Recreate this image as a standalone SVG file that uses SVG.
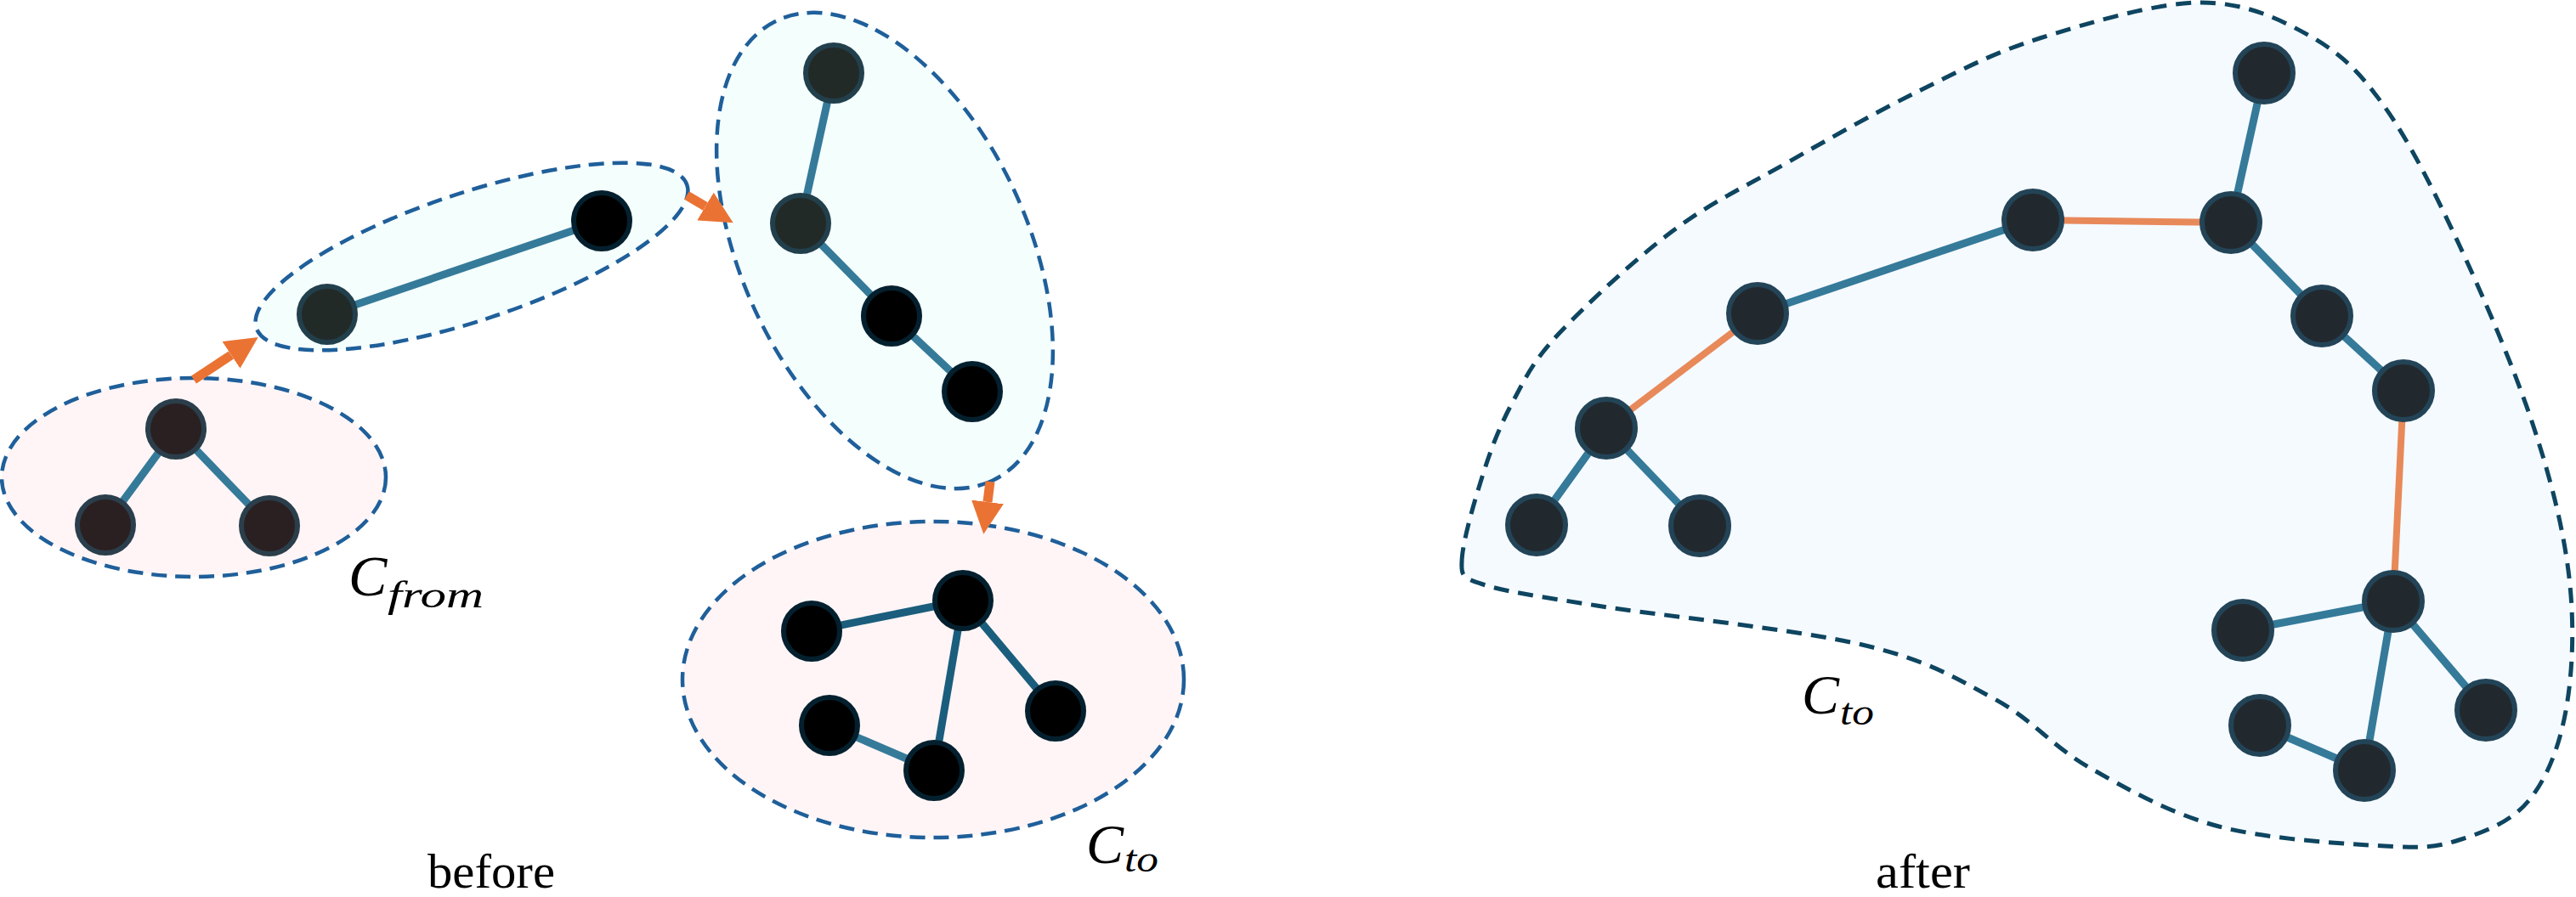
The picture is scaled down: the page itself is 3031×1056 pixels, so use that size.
<svg xmlns="http://www.w3.org/2000/svg" width="3031" height="1056" viewBox="0 0 3031 1056">
<style>
.cl{stroke:#1f5f9a;stroke-width:4.5;stroke-dasharray:18 10}
.pink{fill:#fff5f6}
.cyan{fill:#f4fefd}
.blob{fill:#f5faff;stroke:#0e4560;stroke-width:5;stroke-dasharray:18 11}
.e{stroke:#357a99;stroke-width:9;fill:none}
.ed{stroke:#1b5d7d;stroke-width:9;fill:none}
.eo{stroke:#e8895a;stroke-width:8;fill:none}
.arr{stroke:#ea7334;stroke-width:11;fill:none}
.nb{fill:#2a2021;stroke:#2b3e4b;stroke-width:6}
.ns{fill:#222a28;stroke:#223f4c;stroke-width:6}
.nk{fill:#000;stroke:#04202e;stroke-width:6}
.na{fill:#22292e;stroke:#234457;stroke-width:6}
.math{font-family:"Liberation Serif","DejaVu Serif",serif;font-style:italic;fill:#000}
.cap{font-family:"Liberation Serif","DejaVu Serif",serif;font-size:57px;fill:#000}
</style>
<defs>
<marker id="ah" markerUnits="userSpaceOnUse" markerWidth="38" markerHeight="38" viewBox="0 0 38 38" refX="0" refY="19" orient="auto">
<path d="M0,0 L38,19 L0,38 Z" fill="#ea7334"/>
</marker>
</defs>

<g id="cluster-from">
<ellipse class="cl pink" cx="228" cy="562" rx="226" ry="117"/>
</g>
<g id="cluster-mid1">
<ellipse class="cl cyan" cx="555" cy="302" rx="267" ry="75" transform="rotate(-18.4 555 302)"/>
</g>
<g id="cluster-mid2">
<ellipse class="cl cyan" cx="1041" cy="295" rx="299" ry="168" transform="rotate(65 1041 295)"/>
</g>
<g id="cluster-to">
<ellipse class="cl pink" cx="1098" cy="800" rx="295" ry="186"/>
</g>
<g id="cluster-after">
<path class="blob" d="M1720,662 C1720,640.3 1735,589.5 1745,558 C1755,526.5 1765.2,500.5 1780,473 C1794.8,445.5 1802.7,426.5 1834,393 C1865.3,359.5 1923.3,305.5 1968,272 C2012.7,238.5 2053.7,219.5 2102,192 C2150.3,164.5 2208.3,131.5 2258,107 C2307.7,82.5 2344.8,62.3 2400,45 C2455.2,27.7 2535.8,3.3 2589,3 C2642.2,2.7 2682.8,22.5 2719,43 C2755.2,63.5 2777,85.3 2806,126 C2835,166.7 2864,224.8 2893,287 C2922,349.2 2958.3,433.5 2980,499 C3001.7,564.5 3016.5,623.7 3023,680 C3029.5,736.3 3027,793.2 3019,837 C3011,880.8 2996,917.7 2975,943 C2954,968.3 2921.2,980.2 2893,989 C2864.8,997.8 2853,998.7 2806,996 C2759,993.3 2668.8,988.3 2611,973 C2553.2,957.7 2503,929 2459,904 C2415,879 2391.7,847.2 2347,823 C2302.3,798.8 2269,777.3 2191,759 C2113,740.7 1953.3,724.8 1879,713 C1804.7,701.2 1771.5,696.5 1745,688 C1722,681 1719,678 1720,662 Z"/>
</g>

<g id="connectors">
<line class="e" x1="207" y1="505" x2="124" y2="618"/>
<line class="e" x1="207" y1="505" x2="317" y2="619"/>
<line class="e" x1="385" y1="370" x2="708" y2="260"/>
<line class="e" x1="981" y1="86" x2="942" y2="263"/>
<line class="e" x1="942" y1="263" x2="1049" y2="372"/>
<line class="e" x1="1049" y1="372" x2="1144" y2="461"/>
<line class="ed" x1="955" y1="743" x2="1133" y2="707"/>
<line class="ed" x1="1133" y1="707" x2="1099" y2="907"/>
<line class="ed" x1="1133" y1="707" x2="1242" y2="837"/>
<line class="e" x1="976" y1="854" x2="1099" y2="907"/>
<line class="arr" x1="228" y1="447" x2="272" y2="418" marker-end="url(#ah)"/>
<line class="arr" x1="808" y1="230" x2="830" y2="243" marker-end="url(#ah)"/>
<line class="arr" x1="1165" y1="567" x2="1162" y2="591" marker-end="url(#ah)"/>
<line class="eo" x1="1890" y1="504" x2="2068" y2="369"/>
<line class="e" x1="2068" y1="369" x2="2392" y2="259"/>
<line class="eo" x1="2392" y1="259" x2="2625" y2="262"/>
<line class="e" x1="2625" y1="262" x2="2664" y2="86"/>
<line class="e" x1="2625" y1="262" x2="2732" y2="372"/>
<line class="e" x1="2732" y1="372" x2="2828" y2="460"/>
<line class="eo" x1="2828" y1="460" x2="2816" y2="708"/>
<line class="e" x1="1890" y1="504" x2="1808" y2="618"/>
<line class="e" x1="1890" y1="504" x2="2000" y2="619"/>
<line class="e" x1="2816" y1="708" x2="2639" y2="742"/>
<line class="e" x1="2816" y1="708" x2="2782" y2="907"/>
<line class="e" x1="2816" y1="708" x2="2925" y2="836"/>
<line class="e" x1="2659" y1="854" x2="2782" y2="907"/>
</g>

<g id="n1"><circle class="nb" cx="207" cy="505" r="33"/></g>
<g id="n2"><circle class="nb" cx="124" cy="618" r="33"/></g>
<g id="n3"><circle class="nb" cx="317" cy="619" r="33"/></g>
<g id="n4"><circle class="ns" cx="385" cy="370" r="33"/></g>
<g id="n5"><circle class="nk" cx="708" cy="260" r="33"/></g>
<g id="n6"><circle class="ns" cx="981" cy="86" r="33"/></g>
<g id="n7"><circle class="ns" cx="942" cy="263" r="33"/></g>
<g id="n8"><circle class="nk" cx="1049" cy="372" r="33"/></g>
<g id="n9"><circle class="nk" cx="1144" cy="461" r="33"/></g>
<g id="n10"><circle class="nk" cx="955" cy="743" r="33"/></g>
<g id="n11"><circle class="nk" cx="1133" cy="707" r="33"/></g>
<g id="n12"><circle class="nk" cx="976" cy="854" r="33"/></g>
<g id="n13"><circle class="nk" cx="1099" cy="907" r="33"/></g>
<g id="n14"><circle class="nk" cx="1242" cy="837" r="33"/></g>

<g id="a1"><circle class="na" cx="2068" cy="369" r="34"/></g>
<g id="a2"><circle class="na" cx="1890" cy="504" r="34"/></g>
<g id="a3"><circle class="na" cx="1808" cy="618" r="34"/></g>
<g id="a4"><circle class="na" cx="2000" cy="619" r="34"/></g>
<g id="a5"><circle class="na" cx="2392" cy="259" r="34"/></g>
<g id="a6"><circle class="na" cx="2664" cy="86" r="34"/></g>
<g id="a7"><circle class="na" cx="2625" cy="262" r="34"/></g>
<g id="a8"><circle class="na" cx="2732" cy="372" r="34"/></g>
<g id="a9"><circle class="na" cx="2828" cy="460" r="34"/></g>
<g id="a10"><circle class="na" cx="2816" cy="708" r="34"/></g>
<g id="a11"><circle class="na" cx="2639" cy="742" r="34"/></g>
<g id="a12"><circle class="na" cx="2659" cy="854" r="34"/></g>
<g id="a13"><circle class="na" cx="2782" cy="907" r="34"/></g>
<g id="a14"><circle class="na" cx="2925" cy="836" r="34"/></g>

<g id="labels">
<text class="math"><tspan x="410" y="701" font-size="68">C</tspan><tspan x="456" y="715" font-size="44" textLength="113" lengthAdjust="spacingAndGlyphs">from</tspan></text>
<text class="math"><tspan x="1278" y="1016" font-size="66">C</tspan><tspan x="1323" y="1026" font-size="44" textLength="40" lengthAdjust="spacingAndGlyphs">to</tspan></text>
<text class="math"><tspan x="2120" y="840" font-size="66">C</tspan><tspan x="2165" y="853" font-size="44" textLength="40" lengthAdjust="spacingAndGlyphs">to</tspan></text>
<text class="cap" x="503" y="1045" textLength="150" lengthAdjust="spacingAndGlyphs">before</text>
<text class="cap" x="2207" y="1045" textLength="111" lengthAdjust="spacingAndGlyphs">after</text>
</g>
</svg>
